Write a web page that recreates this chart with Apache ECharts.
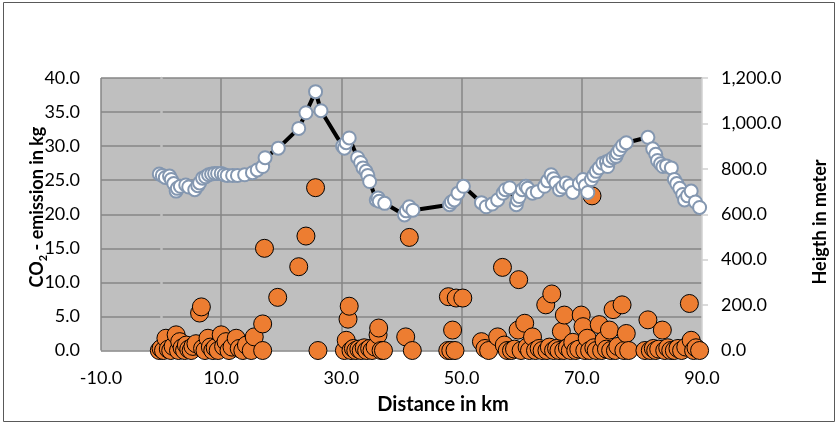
<!DOCTYPE html>
<html>
<head>
<meta charset="utf-8">
<script src="https://cdn.jsdelivr.net/npm/echarts@6/dist/echarts.min.js"></script>
<style>html,body{margin:0;padding:0;background:#fff}#c{width:838px;height:424px}</style>
</head>
<body>
<div id="c"></div>
<script>
// Height profile (right axis, meters)
const heightDist = [-0.3,0.2,0.7,1.4,1.7,2.1,2.5,2.7,3.2,4.1,4.6,5.6,6.1,6.4,6.9,7.4,7.9,8.4,8.9,9.4,10.0,10.5,11.0,11.9,12.7,13.9,15.2,16.0,16.9,17.3,19.5,22.9,24.1,25.7,26.6,30.2,30.5,30.8,31.3,32.7,33.2,33.6,34.1,34.4,34.7,35.8,36.1,36.3,37.2,40.5,40.8,41.3,41.9,48.0,48.3,48.8,49.4,50.3,53.3,54.1,55.1,56.0,56.9,57.3,58.0,59.1,59.3,59.6,60.1,60.7,61.0,61.8,62.6,63.8,64.3,64.9,65.3,65.7,66.3,66.8,67.4,68.0,68.5,69.6,70.2,70.6,71.0,71.6,72.0,72.4,72.9,73.5,74.1,74.3,74.6,75.2,75.7,75.9,76.3,76.8,77.4,81.0,81.8,82.3,82.6,83.1,83.5,84.1,84.9,85.4,85.8,86.3,86.8,87.1,87.6,88.2,88.9,89.6];
const heightM = [777,771,762,768,753,735,702,714,723,729,720,708,726,738,759,765,774,777,780,780,780,774,771,771,771,774,783,795,810,849,891,978,1047,1140,1056,900,891,915,936,849,828,804,789,771,744,663,672,657,648,597,615,633,618,642,654,663,693,723,651,633,645,663,693,708,717,642,663,678,708,723,714,693,699,723,747,774,756,738,708,720,738,726,696,735,753,726,696,753,771,789,804,825,831,810,837,849,855,870,885,903,915,939,888,864,837,822,810,813,804,753,735,714,687,663,681,702,654,630];

// CO2 emission (left axis, kg)
const co2Dist = [-0.3,0.0,0.4,0.8,1.2,1.6,2.0,2.5,2.9,3.1,3.5,3.9,4.2,4.6,5.0,5.3,5.8,6.4,6.7,6.9,7.3,7.8,8.2,8.6,9.0,9.5,10.0,10.4,10.8,11.3,11.8,12.5,13.0,13.6,14.2,15.0,15.5,16.9,16.9,17.2,19.4,22.9,24.1,25.7,26.1,
  30.5,30.8,31.1,31.3,31.6,32.0,32.4,32.9,33.3,33.8,34.2,34.7,35.1,35.6,36.1,36.2,36.6,37.0,40.7,41.3,41.8,
  47.7,47.8,48.2,48.5,48.9,49.1,50.2,53.3,53.9,54.5,56.0,56.8,57.1,57.6,58.3,58.8,59.4,59.5,59.9,60.5,60.9,61.3,61.8,62.3,62.9,63.4,
  64.0,64.2,64.6,65.0,65.3,65.8,66.2,66.6,67.0,67.1,67.6,68.1,68.5,69.0,69.5,69.9,70.2,70.5,70.9,71.3,71.7,72.0,72.4,72.9,73.3,73.7,74.1,74.6,74.8,75.2,75.6,76.0,76.7,77.0,77.4,77.8,
  80.5,81.0,81.4,81.9,82.3,82.8,83.4,83.8,84.3,84.8,85.4,86.0,86.6,87.3,87.9,88.2,88.6,89.0,89.6];
const co2Kg = [0,0.3,0,1.8,0.2,0,0.6,2.3,0,1.3,0.4,0,0.8,0.2,0,0.6,1.0,5.5,6.4,0.3,0,1.8,0.5,0,0.4,0,2.3,0.6,1.3,0,0.5,1.8,0.3,0,0.8,0,2.0,3.9,0,15.0,7.8,12.3,16.8,23.9,0,
  0,1.5,4.6,6.5,0,0.3,0,0.2,0,0.4,0,0.3,0,0.5,2.3,3.3,0,0,2.0,16.6,0,
  0,7.9,0,3.0,0,7.7,7.7,1.3,0.3,0,2.0,12.2,0.8,0,0,0.2,3.0,10.4,0,4.0,0.5,0,2.0,0,0.3,0,
  6.7,0,0.5,8.3,0,0.3,0,2.8,0,5.2,0.4,0,1.2,0,0.2,5.2,3.5,0,1.8,0,22.7,0.4,0,3.8,0,1.5,0.2,3.0,0,6.0,0,0.6,6.7,0,2.5,0,
  0,4.5,0,0.3,0,0.2,3.0,0,0.4,0,0,0.3,0,0.5,6.9,1.5,0,0.4,0];

const xRange = [-10, 90, 20];
const leftRange = [0, 40, 5];
const rightRange = [0, 1200, 200];

const FONT = 'Lato';
const fmt1 = v => {
  const s = Math.abs(v).toFixed(1);
  const [i, d] = s.split('.');
  return (v < 0 ? '-' : '') + i.replace(/\B(?=(\d{3})+(?!\d))/g, ',') + '.' + d;
};

const chart = echarts.init(document.getElementById('c'), null, {renderer: 'canvas'});
chart.setOption({
  animation: false,
  backgroundColor: '#ffffff',
  grid: {left: 101, top: 78, right: 136, bottom: 73.5, show: true, backgroundColor: '#BFBFBF', borderWidth: 0, outerBoundsMode: 'none'},
  xAxis: {
    type: 'value', min: xRange[0], max: xRange[1], interval: xRange[2],
    axisLine: {show: false},
    axisTick: {show: false},
    splitLine: {show: true, showMaxLine: false, lineStyle: {color: '#868686', width: 1.5}},
    axisLabel: {formatter: fmt1, fontFamily: FONT, fontSize: 18, color: '#000', margin: 19}
  },
  yAxis: [{
    type: 'value', min: leftRange[0], max: leftRange[1], interval: leftRange[2],
    axisLine: {show: true, onZero: true, lineStyle: {color: '#BFBFBF', width: 2.5}},
    axisTick: {show: false},
    splitLine: {show: true, lineStyle: {color: '#868686', width: 1.5}},
    axisLabel: {formatter: fmt1, fontFamily: FONT, fontSize: 18, color: '#000', margin: 21}
  }, {
    type: 'value', position: 'right', min: rightRange[0], max: rightRange[1], interval: rightRange[2],
    axisLine: {show: true, onZero: false, lineStyle: {color: '#D0D0D0', width: 1.5}},
    axisTick: {show: true, inside: false, length: 6, lineStyle: {color: '#D0D0D0', width: 1.5}},
    splitLine: {show: false},
    axisLabel: {formatter: fmt1, fontFamily: FONT, fontSize: 18, color: '#000', margin: 19}
  }],
  graphic: [
    {type: 'rect', silent: true, shape: {x: 3.5, y: 2.5, width: 831, height: 419}, style: {fill: 'none', stroke: '#595959', lineWidth: 1}},
    {type: 'text', x: 37, y: 207, rotation: Math.PI / 2, silent: true,
      style: {text: '{a|CO}{s|2}{a| - emission in kg}', align: 'center', verticalAlign: 'middle',
        rich: {a: {fontFamily: FONT, fontWeight: 'bold', fontSize: 18, lineHeight: 24, fill: '#000'},
               s: {fontFamily: FONT, fontWeight: 'bold', fontSize: 11, lineHeight: 13, verticalAlign: 'bottom', fill: '#000'}}}},
    {type: 'text', x: 820, y: 222, rotation: Math.PI / 2, silent: true,
      style: {text: 'Heigth in meter', align: 'center', verticalAlign: 'middle', fontFamily: FONT, fontWeight: 'bold', fontSize: 18, fill: '#000'}},
    {type: 'text', x: 443, y: 405, silent: true,
      style: {text: 'Distance in km', align: 'center', verticalAlign: 'middle', fontFamily: FONT, fontWeight: 'bold', fontSize: 20, fill: '#000'}}
  ],
  series: [{
    name: 'CO2', type: 'scatter', yAxisIndex: 0,
    data: co2Dist.map((d, i) => [d, co2Kg[i]]),
    symbol: 'circle', symbolSize: 18,
    itemStyle: {color: '#ED7D31', borderColor: '#000', borderWidth: 1, opacity: 1},
    z: 2
  }, {
    name: 'Height', type: 'line', yAxisIndex: 1,
    data: heightDist.map((d, i) => [d, heightM[i]]),
    symbol: 'circle', symbolSize: 13, showSymbol: true, showAllSymbol: true,
    lineStyle: {color: '#000', width: 4},
    itemStyle: {color: '#FFFFFF', borderColor: '#8497B0', borderWidth: 2, opacity: 1},
    z: 3
  }]
});
</script>
</body>
</html>
